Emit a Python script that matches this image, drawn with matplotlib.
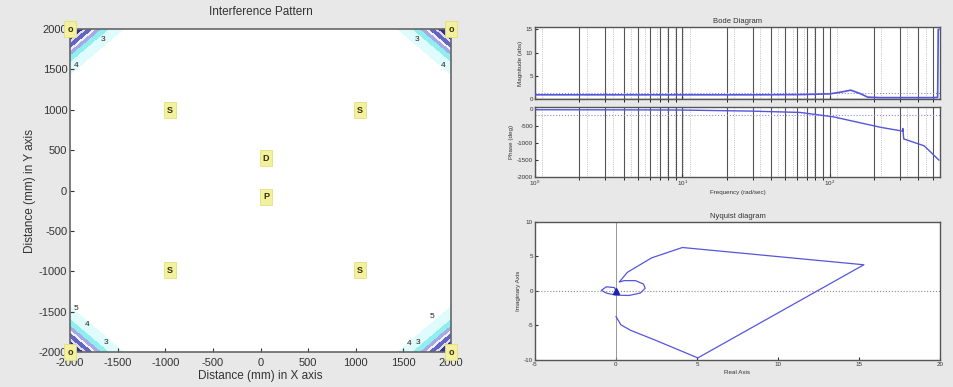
import numpy as np
import matplotlib
matplotlib.use("Agg")
import matplotlib.pyplot as plt

plt.rcParams['font.family'] = ['Liberation Sans', 'DejaVu Sans']
plt.rcParams['axes.unicode_minus'] = False

# ---- interference pattern data ----
corners = [(-2000, 2000), (2000, 2000), (-2000, -2000), (2000, -2000)]
band_levels = [0, 150, 185, 250, 285, 340, 420, 560]
band_colors = ['#34348f', '#dcdcf6', '#6464c2', '#f2f2fb', '#a8a8e6', '#8feeee', '#e0fbfb']
contour_text = ['3', '4', '5', '4', '3', '5', '4', '3', '3', '4']
contour_x = [-1654, -1937, -1937, -1822, -1622, 1800, 1560, 1654, 1643, 1916]
contour_y = [1876, 1554, -1455, -1665, -1888, -1554, -1900, -1876, 1876, 1554]
marker_text = ['o', 'o', 'o', 'o', 'S', 'S', 'S', 'S', 'D', 'P']
marker_x = [-2000, 2000, -2000, 2000, -950, 1045, -950, 1045, 58, 58]
marker_y = [2000, 2000, -2000, -2000, 997, 997, -985, -985, 402, -80]

# ---- Bode data ----
freq = [1, 2, 5, 10, 30, 63, 100, 120, 139, 160, 181, 220, 300, 400, 500, 540, 545, 550]
mag = [0.9, 0.9, 0.9, 0.9, 0.9, 0.95, 1.1, 1.5, 1.9, 1.2, 0.4, 0.3, 0.3, 0.3, 0.3, 0.35, 15, 15]
phase_f = [1, 5, 10, 29, 63, 106, 223, 313, 313, 318, 436, 480, 550]
phase = [-20, -25, -30, -60, -100, -230, -540, -650, -570, -880, -1080, -1250, -1500]

# ---- Nyquist data ----
nyq_re = [0.0, 0.3, 0.9, 2.4, 5.05, 15.3, 4.1, 2.2, 0.7, 0.2, 0.5, 1.2, 1.7, 1.8, 1.5, 0.8,
          0.0, -0.6, -0.9, -0.6, -0.1, 0.0]
nyq_im = [-3.7, -4.9, -5.7, -7.1, -9.7, 3.8, 6.3, 4.8, 2.7, 1.3, 1.5, 1.5, 1.0, 0.4, -0.3, -0.65,
          -0.6, -0.3, 0.1, 0.6, 0.5, 0.0]

bg = '#e8e8e8'
fig = plt.figure(figsize=(9.54, 3.87), dpi=100, facecolor=bg)

# ---------------- left: interference pattern ----------------
ax = fig.add_axes([0.0734, 0.0904, 0.3994, 0.8346])
gx = np.linspace(-2000, 2000, 401)
X, Y = np.meshgrid(gx, gx)
field = np.full(X.shape, 1e9)
for cx, cy in corners:
    field = np.minimum(field, np.abs(X - cx) + np.abs(Y - cy))
ax.contourf(X, Y, field, levels=band_levels, colors=band_colors)
for t, x, y in zip(contour_text, contour_x, contour_y):
    ax.text(x, y, t, fontsize=6, color='#222222', ha='center', va='center')
for t, x, y in zip(marker_text, marker_x, marker_y):
    ax.text(x, y, t, fontsize=6.5, fontweight='bold', color='#333300', ha='center', va='center',
            clip_on=False, zorder=5,
            bbox=dict(boxstyle='square,pad=0.35', fc='#f3f0a0', ec='#e4df80', lw=0.6))
ax.set_xlim(-2000, 2000)
ax.set_ylim(-2000, 2000)
ax.set_xticks(np.arange(-2000, 2001, 500))
ax.set_yticks(np.arange(-2000, 2001, 500))
ax.tick_params(labelsize=8, colors='#333333', length=3, direction='in')
ax.tick_params(axis='x', pad=4)
ax.tick_params(axis='y', pad=2)
for s in ax.spines.values():
    s.set_color('#666666')
    s.set_linewidth(1.2)
ax.set_title('Interference Pattern', fontsize=8.5, color='#333333', pad=10)
ax.set_xlabel('Distance (mm) in X axis', fontsize=8.5, color='#333333', labelpad=2)
ax.set_ylabel('Distance (mm) in Y axis', fontsize=8.5, color='#333333', labelpad=2)

line_c = '#5555dd'
small = 4.5


def style_small(a):
    a.tick_params(labelsize=small, colors='#333333', length=2, direction='in', pad=1.5)
    for s in a.spines.values():
        s.set_color('#555555')
        s.set_linewidth(1.0)


def log_grid(a):
    for dec in [1, 10, 100]:
        for k in range(1, 10):
            f = dec * k
            if f <= 560:
                a.axvline(f, color='#555555', lw=0.8, zorder=1)
                a.axvline(f * 1.12, color='#999999', lw=0.5, ls=':', zorder=1)


# ---------------- Bode magnitude ----------------
am = fig.add_axes([0.5608, 0.7442, 0.4245, 0.186])
am.set_xscale('log')
log_grid(am)
am.axhline(1.25, color='#8888dd', lw=0.8, ls=':')
am.axhline(0.1, color='#444444', lw=1.0)
am.plot(freq, mag, color=line_c, lw=1.2, zorder=3)
am.set_xlim(1, 560)
am.set_ylim(0, 15.5)
am.set_yticks([0, 5, 10, 15])
am.tick_params(axis='x', which='both', labelbottom=False)
style_small(am)
am.set_title('Bode Diagram', fontsize=5.5, color='#333333', pad=3)
am.set_ylabel('Magnitude (abs)', fontsize=small, color='#333333', labelpad=2)

# ---------------- Bode phase ----------------
ap = fig.add_axes([0.5608, 0.5426, 0.4245, 0.1809])
ap.set_xscale('log')
log_grid(ap)
ap.axhline(-180, color='#8888dd', lw=0.8, ls=':')
ap.plot(phase_f, phase, color=line_c, lw=1.0, zorder=3)
ap.set_xlim(1, 560)
ap.set_ylim(-2000, 60)
ap.set_yticks([-2000, -1500, -1000, -500, 0])
style_small(ap)
ap.set_xlabel('Frequency (rad/sec)', fontsize=small, color='#333333', labelpad=1)
ap.set_ylabel('Phase (deg)', fontsize=small, color='#333333', labelpad=2)

# ---------------- Nyquist ----------------
an = fig.add_axes([0.5608, 0.0698, 0.4245, 0.3566])
an.axhline(0, color='#888888', lw=0.8, ls=':')
an.axvline(0, color='#888888', lw=0.6)
an.plot(nyq_re, nyq_im, color=line_c, lw=0.9)
an.plot([0], [0], marker='^', color='#2222aa', ms=4)
an.set_xlim(-5, 20)
an.set_ylim(-10, 10)
an.set_xticks([-5, 0, 5, 10, 15, 20])
an.set_yticks([-10, -5, 0, 5, 10])
style_small(an)
an.set_title('Nyquist diagram', fontsize=5.5, color='#333333', pad=3)
an.set_xlabel('Real Axis', fontsize=small, color='#333333', labelpad=2)
an.set_ylabel('Imaginary Axis', fontsize=small, color='#333333', labelpad=2)

fig.savefig('out.png', dpi=100, facecolor=bg)
